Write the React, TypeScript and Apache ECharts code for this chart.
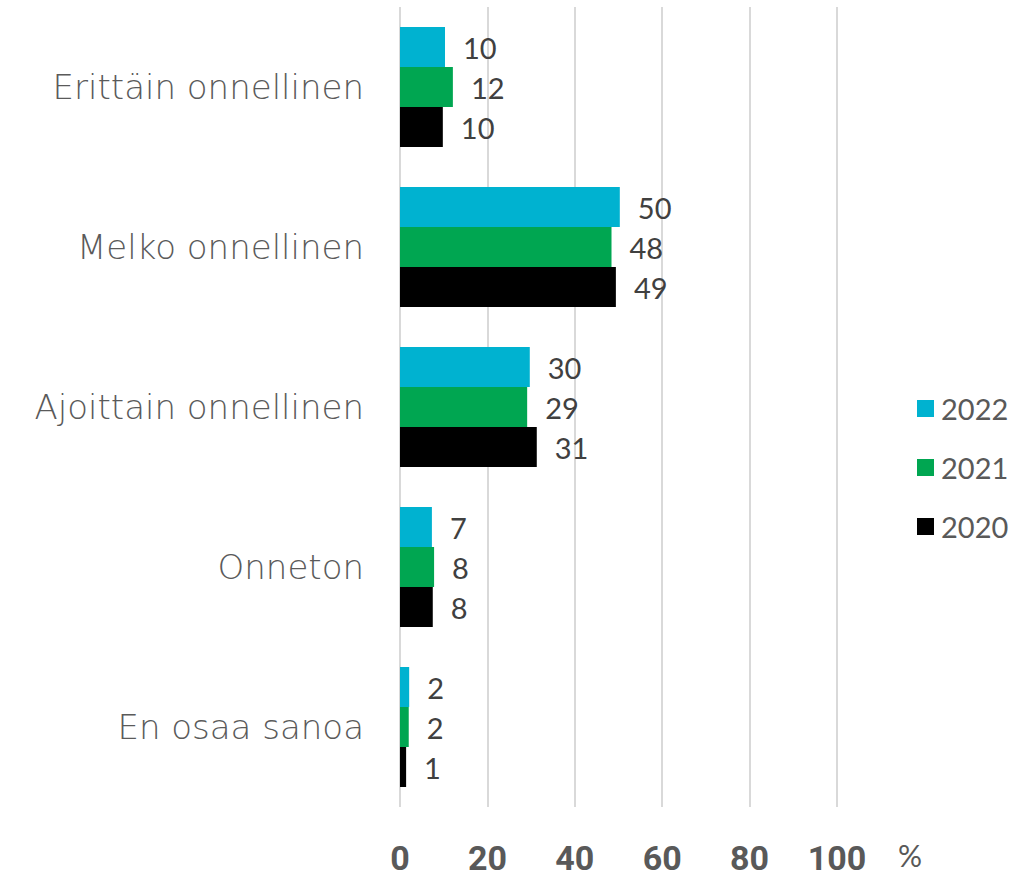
import React, { useEffect, useRef } from "react";
import * as echarts from "echarts";

const categories = [
  "Erittäin onnellinen",
  "Melko onnellinen",
  "Ajoittain onnellinen",
  "Onneton",
  "En osaa sanoa",
];
const seriesNames = ["2022", "2021", "2020"];
const values2022 = [10.3, 50.3, 29.7, 7.3, 2.1];
const values2021 = [12.1, 48.4, 29.1, 7.8, 2.0];
const values2020 = [9.8, 49.4, 31.3, 7.5, 1.4];
const xTicks = [0, 20, 40, 60, 80, 100];
const colors = ["#00B2D0", "#00A651", "#000000"];

export default function App() {
  const ref = useRef<HTMLDivElement>(null);
  useEffect(() => {
    if (!ref.current) return;
    const chart = echarts.init(ref.current, null, { renderer: "svg" });
    const allValues = [values2022, values2021, values2020];
    const font = "Lato, 'Noto Sans', sans-serif";
    chart.setOption({
      animation: false,
      textStyle: { fontFamily: font },
      grid: { left: 400, width: 437, top: 7, bottom: 70, containLabel: false },
      legend: {
        orient: "vertical",
        left: 912,
        top: 389,
        itemWidth: 17,
        itemHeight: 17,
        itemGap: 30,
        icon: "rect",
        data: seriesNames,
        textStyle: { fontSize: 29, color: "#595959", fontFamily: font, padding: [0, 0, 0, 2] },
      },
      xAxis: {
        type: "value",
        min: xTicks[0],
        max: xTicks[xTicks.length - 1],
        interval: 20,
        axisLine: { show: false },
        axisTick: { show: false },
        splitLine: { show: true, lineStyle: { color: "#D9D9D9", width: 2 } },
        axisLabel: {
          margin: 34,
          fontSize: 34,
          fontWeight: "bold",
          color: "#595959",
          fontFamily: "'Liberation Sans Narrow', Roboto, sans-serif",
        },
      },
      yAxis: {
        type: "category",
        data: categories,
        inverse: true,
        axisLine: { show: false },
        axisTick: { show: false },
        axisLabel: {
          margin: 36,
          fontSize: 34,
          color: "#5a5a5a",
          fontFamily: "'DejaVu Sans', Lato, sans-serif",
          fontWeight: 300,
        },
      },
      graphic: [
        {
          type: "text",
          left: 898,
          top: 840,
          style: { text: "%", fontSize: 30, fill: "#595959", fontFamily: font },
        },
      ],
      series: seriesNames.map((name, i) => ({
        name,
        type: "bar",
        data: allValues[i],
        barGap: "0%",
        barCategoryGap: "25%",
        itemStyle: { color: colors[i] },
        label: {
          show: true,
          position: "right",
          distance: 18,
          fontSize: 29,
          color: "#404040",
          fontFamily: font,
          formatter: (p: any) => String(Math.round(p.value)),
        },
      })),
    });
    return () => chart.dispose();
  }, []);
  return <div ref={ref} style={{ width: 1015, height: 877, position: "absolute", left: 0, top: 0 }} />;
}
